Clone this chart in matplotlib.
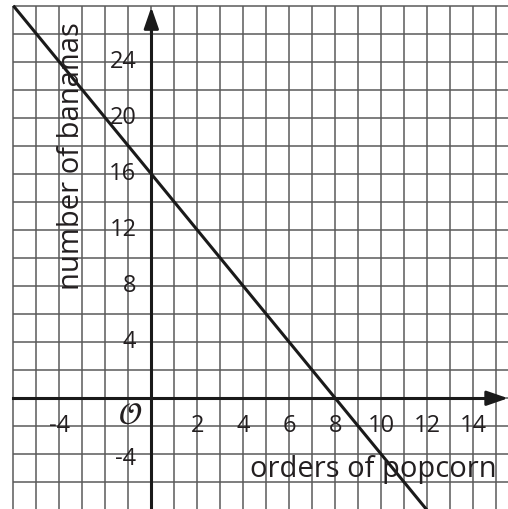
import matplotlib
matplotlib.use("Agg")
import matplotlib.pyplot as plt
import numpy as np

plt.rcParams['font.family'] = ['Open Sans', 'DejaVu Sans']

# Data
line_x = [-6, 12]
intercept = 16
slope = -2
x_tick_values = [-4, 2, 4, 6, 8, 10, 12, 14]
y_tick_values = [4, 8, 12, 16, 20, 24, -4]
x_label = "orders of popcorn"
y_label = "number of bananas"

xmin, xmax = -6.58, 15.51
ymin, ymax = -7.90, 28.41
grid_x0, grid_y1 = -6, 28

fig = plt.figure(figsize=(5.08, 5.09), dpi=100)
ax = fig.add_axes([0, 0, 1, 1])
ax.set_xlim(xmin, xmax)
ax.set_ylim(ymin, ymax)
ax.axis('off')

gcol = '#5a5a5a'
gx = np.arange(-6, 16, 1)
gy = np.arange(-6, 29, 2)
ax.vlines(gx, ymin, grid_y1, colors=gcol, lw=1.1, zorder=1)
ax.hlines(gy, grid_x0, xmax, colors=gcol, lw=1.1, zorder=1)

# axes with arrows
astyle = '-|>,head_length=1.3,head_width=0.45'
ax.plot([grid_x0, xmax - 0.5], [0, 0], color='#1a1a1a', lw=2.2, zorder=2)
ax.annotate('', xy=(xmax, 0), xytext=(xmax - 0.8, 0),
            arrowprops=dict(arrowstyle=astyle, color='#1a1a1a', lw=2.0,
                            shrinkA=0, shrinkB=0), zorder=3)
ax.plot([0, 0], [ymin, grid_y1 - 1], color='#1a1a1a', lw=2.2, zorder=2)
ax.annotate('', xy=(0, grid_y1 - 0.1), xytext=(0, grid_y1 - 2.0),
            arrowprops=dict(arrowstyle=astyle, color='#1a1a1a', lw=2.0,
                            shrinkA=0, shrinkB=0), zorder=3)

# main line
lx = np.array(line_x, dtype=float)
ly = intercept + slope * lx
ax.plot(lx, ly, color='#1a1a1a', lw=2.2, zorder=4, solid_capstyle='butt')

tcol = '#231f20'
for v in x_tick_values:
    ax.text(v, -2, str(v), ha='center', va='center', fontsize=17, color=tcol, zorder=5)
for v in y_tick_values:
    yy = v if v > 0 else v - 0.3
    ax.text(-0.65, yy, str(v), ha='right', va='center', fontsize=17, color=tcol, zorder=5)

ax.text(-0.4, -1.25, r'$\mathcal{O}$', ha='right', va='center', fontsize=22, color=tcol, zorder=5)

ax.text(4.3, -5.1, x_label, ha='left', va='center', fontsize=21, color=tcol, zorder=5)
ax.text(-3.45, 17.3, y_label, ha='center', va='center', rotation=90, fontsize=21, color=tcol, zorder=5)

fig.savefig('out.png', dpi=100)
